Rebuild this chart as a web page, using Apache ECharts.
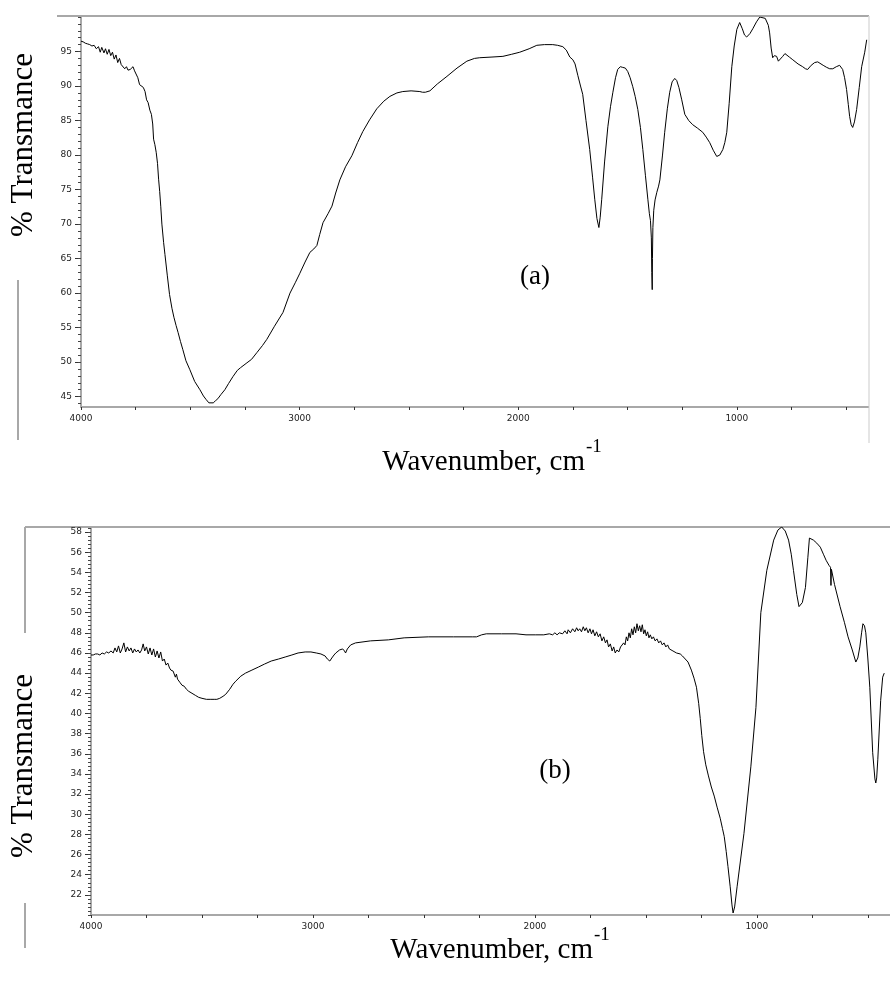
<!DOCTYPE html>
<html>
<head>
<meta charset="utf-8">
<script src="https://cdn.jsdelivr.net/npm/echarts@6/dist/echarts.min.js"></script>
<style>html,body{margin:0;padding:0;background:#fff}#c{width:890px;height:985px}</style>
</head>
<body>
<div id="c"></div>
<script>
// ---- Spectrum (a) ----
const wnA = [4000,3990,3980,3970,3960,3950,3940,3930,3920,3912,3905,3895,3888,3880,3872,3864,3856,3848,3840,3832,3824,3816,3808,3800,3792,3785,3775,3768,3762,3755,3748,3740,3732,3725,3715,3707,3700,3693,3685,3678,3672,3668,3662,3656,3650,3645,3640,3635,3630,3622,3616,3605,3595,3584,3575,3565,3556,3545,3534,3520,3502,3480,3456,3440,3428,3415,3406,3395,3385,3374,3360,3342,3325,3305,3285,3270,3241,3220,3195,3170,3150,3115,3076,3044,3020,3000,2975,2953,2935,2921,2908,2893,2870,2852,2835,2816,2790,2761,2735,2711,2680,2647,2615,2587,2555,2528,2490,2450,2438,2432,2425,2404,2370,2326,2280,2235,2200,2176,2120,2070,2030,1993,1950,1915,1880,1842,1820,1796,1780,1764,1750,1740,1727,1715,1705,1690,1673,1660,1650,1640,1631,1625,1618,1605,1590,1578,1567,1555,1545,1533,1522,1510,1499,1488,1476,1465,1453,1441,1430,1418,1407,1400,1395,1391,1389,1387,1386,1384,1380,1374,1366,1358,1352,1340,1330,1318,1307,1296,1284,1275,1265,1252,1238,1220,1202,1180,1156,1140,1124,1108,1092,1078,1064,1055,1046,1035,1023,1012,1000,987,975,965,955,940,927,910,895,886,870,863,856,850,843,836,828,818,810,804,790,780,772,760,744,720,699,686,676,660,644,630,621,605,589,575,561,545,530,522,516,507,498,490,484,477,470,462,452,440,429,415,406];
const tA = [96.5,96.4,96.2,96.1,96.0,95.8,95.9,95.4,95.7,94.9,95.6,94.8,95.4,94.6,95.3,94.4,94.9,93.9,94.5,93.4,94.0,93.1,93.3,92.5,92.8,92.3,92.4,92.6,92.8,92.2,92.0,91.2,90.2,90.0,89.8,89.2,88.0,87.6,86.5,85.9,84.5,82.3,81.5,80.4,78.8,76.5,74.7,72.5,70.0,67.3,65.6,62.5,59.8,57.8,56.5,55.3,54.3,53.0,51.8,50.2,48.9,47.2,46.0,45.1,44.6,44.1,44.0,44.1,44.4,44.7,45.3,46.0,46.9,47.9,48.8,49.2,49.9,50.4,51.4,52.4,53.3,55.2,57.2,60.0,61.5,62.8,64.5,65.9,66.4,66.9,68.5,70.2,71.5,72.6,74.5,76.4,78.3,79.9,81.8,83.4,85.1,86.7,87.8,88.5,89.0,89.2,89.3,89.2,89.1,88.9,89.1,89.3,90.3,91.4,92.6,93.6,94.0,94.1,94.2,94.3,94.6,94.9,95.4,95.9,96.0,96.0,95.9,95.7,95.2,94.2,93.8,93.2,91.5,90.0,88.8,85.0,80.8,76.8,73.6,70.8,69.5,71.0,73.6,79.0,84.1,87.0,89.1,91.2,92.4,92.8,92.7,92.6,92.1,91.2,89.9,88.5,86.6,84.0,80.8,77.0,73.6,71.5,70.5,68.0,63.0,60.5,65.0,69.5,72.0,73.5,74.6,75.5,76.4,80.0,83.3,86.7,89.1,90.6,91.1,90.8,89.8,88.0,85.9,85.0,84.4,83.9,83.3,82.6,81.8,80.7,79.8,80.0,80.8,81.8,83.3,87.5,92.8,95.8,98.2,99.2,98.3,97.4,97.1,97.6,98.3,99.3,100.0,100.1,99.8,99.6,98.8,97.7,95.5,94.1,94.4,94.3,93.6,93.4,94.3,94.7,94.6,94.2,93.8,93.2,92.8,92.5,92.4,93.0,93.4,93.5,93.4,93.0,92.7,92.5,92.5,92.8,93.0,92.9,92.4,91.2,89.5,87.3,85.6,84.4,84.0,84.8,86.6,89.8,92.8,94.9,96.7];

// ---- Spectrum (b) ----
const wnB = [4000,3990,3980,3970,3960,3950,3940,3930,3920,3910,3900,3892,3884,3876,3868,3860,3852,3844,3836,3828,3820,3812,3804,3796,3788,3780,3772,3765,3758,3750,3742,3734,3726,3718,3710,3702,3694,3686,3678,3670,3662,3654,3646,3640,3630,3620,3615,3610,3600,3590,3580,3570,3560,3545,3530,3515,3500,3480,3460,3445,3433,3420,3405,3393,3375,3360,3348,3325,3304,3275,3246,3218,3188,3155,3125,3095,3067,3035,3009,2985,2964,2945,2935,2924,2915,2905,2897,2880,2866,2858,2853,2845,2830,2808,2741,2660,2589,2480,2366,2280,2263,2240,2219,2150,2085,2040,1996,1960,1935,1920,1910,1900,1890,1875,1865,1855,1850,1840,1830,1820,1812,1805,1798,1790,1782,1775,1768,1760,1752,1745,1738,1730,1722,1714,1706,1698,1690,1682,1675,1668,1660,1652,1645,1638,1630,1622,1614,1606,1600,1594,1588,1582,1576,1570,1564,1558,1552,1546,1540,1534,1528,1522,1516,1510,1504,1498,1492,1486,1480,1473,1466,1458,1450,1442,1434,1426,1418,1410,1402,1394,1386,1378,1370,1362,1357,1345,1335,1326,1310,1295,1283,1272,1262,1255,1248,1240,1230,1218,1205,1192,1179,1165,1155,1147,1138,1130,1120,1112,1107,1100,1089,1058,1027,1004,982,955,924,905,888,872,857,845,835,820,810,804,795,781,770,763,745,730,714,700,688,675,668,666,664,650,625,605,589,570,554,545,536,528,522,515,509,500,491,478,468,464,460,455,442,433,426];
const tB = [45.8,45.8,45.9,45.9,45.8,46.0,45.9,46.1,46.0,46.2,46.0,46.5,46.1,46.7,46.0,46.4,47.0,46.1,46.6,46.2,46.5,46.0,46.4,46.1,46.3,46.0,46.3,46.9,46.2,46.6,45.9,46.5,45.8,46.4,45.6,46.2,45.5,46.1,45.2,45.4,44.8,45.0,44.5,44.3,44.2,43.6,43.9,43.4,43.1,42.8,42.7,42.4,42.2,42.0,41.8,41.6,41.5,41.4,41.4,41.4,41.4,41.5,41.7,41.9,42.4,42.9,43.2,43.7,44.0,44.3,44.6,44.9,45.2,45.4,45.6,45.8,46.0,46.1,46.1,46.0,45.9,45.7,45.4,45.2,45.5,45.8,46.0,46.3,46.4,46.2,46.0,46.4,46.8,47.0,47.2,47.3,47.5,47.6,47.6,47.6,47.6,47.8,47.9,47.9,47.9,47.8,47.8,47.8,47.9,47.8,48.0,47.8,48.0,47.9,48.2,47.9,48.3,48.0,48.4,48.1,48.5,48.2,48.4,48.1,48.6,48.2,48.5,48.0,48.4,47.9,48.3,47.7,48.1,47.6,47.9,47.2,47.6,47.0,47.3,46.6,46.9,46.2,46.6,46.0,46.3,46.1,46.6,46.5,47.0,46.8,47.6,47.2,48.0,47.5,48.4,47.8,48.6,48.0,48.9,48.2,48.7,48.1,48.8,47.9,48.3,47.7,48.1,47.5,47.8,47.4,47.6,47.2,47.4,47.0,47.2,46.8,47.0,46.6,46.8,46.4,46.5,46.2,46.3,46.0,46.1,45.9,45.7,45.6,45.1,44.3,43.5,42.6,41.0,39.5,37.8,36.2,34.9,33.8,32.7,31.8,30.7,29.6,28.6,27.8,26.3,24.8,22.8,21.0,20.2,20.8,22.8,28.1,34.7,40.6,50.0,54.2,57.2,58.2,58.5,58.1,57.2,55.8,54.2,51.8,50.6,50.5,51.0,52.5,55.5,57.4,57.2,56.9,56.5,55.8,55.2,54.7,54.5,52.7,54.3,52.8,50.6,49.0,47.6,46.3,45.1,45.5,46.6,48.0,48.9,48.7,48.0,45.5,42.6,36.1,33.5,33.1,33.6,35.4,41.3,43.6,44.0];

// tick labels
const xLabels = [1000, 2000, 3000, 4000];
const yLabelsA = [45, 50, 55, 60, 65, 70, 75, 80, 85, 90, 95];
const yLabelsB = [22, 24, 26, 28, 30, 32, 34, 36, 38, 40, 42, 44, 46, 48, 50, 52, 54, 56, 58];

const xTicks = [];
for (let v = 500; v <= 4000; v += 250) xTicks.push(v);
const yMinorA = [];
for (let v = 44; v <= 100; v += 1) yMinorA.push(v);
const yMinorB = [];
for (let v = 0; v <= 96; v++) yMinorB.push(+(20 + v * 0.4).toFixed(1));

const GRAY = '#a8a8a8';
const labelFont = {fontFamily: 'DejaVu Sans', fontSize: 9, color: '#222'};
const serif = 'Liberation Serif, Times New Roman, serif';
const plain = v => String(v);

function xAx(gi) {
  return {
    gridIndex: gi, type: 'value', min: 400, max: 4000, inverse: true,
    axisLine: {show: true, lineStyle: {color: GRAY, width: 2}},
    axisTick: {show: true, length: 3, lineStyle: {color: '#333', width: 1}, customValues: xTicks},
    axisLabel: Object.assign({margin: 7, customValues: xLabels, formatter: plain}, labelFont),
    splitLine: {show: false}
  };
}
function yAxMajor(gi, min, max, labels) {
  return {
    gridIndex: gi, type: 'value', min: min, max: max,
    axisLine: {show: true, lineStyle: {color: GRAY, width: 2}},
    axisTick: {show: true, length: 6, lineStyle: {color: '#333', width: 1}, customValues: labels},
    axisLabel: Object.assign({margin: 9, customValues: labels, formatter: plain}, labelFont),
    splitLine: {show: false}
  };
}
function yAxMinor(gi, min, max, ticks) {
  return {
    gridIndex: gi, type: 'value', min: min, max: max, position: 'left',
    axisLine: {show: false},
    axisTick: {show: true, length: 3, lineStyle: {color: '#444', width: 1}, customValues: ticks},
    axisLabel: {show: false},
    splitLine: {show: false}
  };
}

const chart = echarts.init(document.getElementById('c'), null, {renderer: 'canvas'});
const lineStyleGray = {stroke: GRAY, lineWidth: 2};
chart.setOption({
  animation: false,
  backgroundColor: '#fff',
  grid: [
    {left: 81, top: 17, width: 787, height: 390},
    {left: 91, top: 527, width: 806, height: 388}
  ],
  xAxis: [xAx(0), xAx(1)],
  yAxis: [
    yAxMajor(0, 43.5, 100, yLabelsA),
    yAxMinor(0, 43.5, 100, yMinorA),
    yAxMajor(1, 20, 58.5, yLabelsB),
    yAxMinor(1, 20, 58.5, yMinorB)
  ],
  series: [
    {type: 'line', xAxisIndex: 0, yAxisIndex: 0, showSymbol: false, symbol: 'none',
     lineStyle: {color: '#000', width: 1}, data: wnA.map((w, i) => [w, tA[i]])},
    {type: 'line', xAxisIndex: 1, yAxisIndex: 2, showSymbol: false, symbol: 'none',
     lineStyle: {color: '#000', width: 1}, data: wnB.map((w, i) => [w, tB[i]])}
  ],
  graphic: [
    // frame fragments (a)
    {type: 'line', shape: {x1: 57, y1: 16, x2: 869, y2: 16}, style: lineStyleGray, silent: true},
    {type: 'line', shape: {x1: 869, y1: 16, x2: 869, y2: 443}, style: {stroke: '#ddd', lineWidth: 1.5}, silent: true},
    {type: 'line', shape: {x1: 18, y1: 280, x2: 18, y2: 440}, style: lineStyleGray, silent: true},
    // frame fragments (b)
    {type: 'line', shape: {x1: 25, y1: 527, x2: 890, y2: 527}, style: lineStyleGray, silent: true},
    {type: 'line', shape: {x1: 25, y1: 527, x2: 25, y2: 633}, style: lineStyleGray, silent: true},
    {type: 'line', shape: {x1: 25, y1: 903, x2: 25, y2: 948}, style: lineStyleGray, silent: true},
    // axis titles (a)
    {type: 'text', x: 24, y: 145, rotation: Math.PI / 2,
     style: {text: '% Transmance', font: '31px ' + serif, fill: '#000', align: 'center', verticalAlign: 'middle'}},
    {type: 'text', x: 585, y: 462,
     style: {text: 'Wavenumber, cm', font: '29px ' + serif, fill: '#000', align: 'right', verticalAlign: 'middle'}},
    {type: 'text', x: 586, y: 447,
     style: {text: '-1', font: '19px ' + serif, fill: '#000', align: 'left', verticalAlign: 'middle'}},
    {type: 'text', x: 535, y: 277,
     style: {text: '(a)', font: '27px ' + serif, fill: '#000', align: 'center', verticalAlign: 'middle'}},
    // axis titles (b)
    {type: 'text', x: 24, y: 766, rotation: Math.PI / 2,
     style: {text: '% Transmance', font: '31px ' + serif, fill: '#000', align: 'center', verticalAlign: 'middle'}},
    {type: 'text', x: 593, y: 950,
     style: {text: 'Wavenumber, cm', font: '29px ' + serif, fill: '#000', align: 'right', verticalAlign: 'middle'}},
    {type: 'text', x: 594, y: 935,
     style: {text: '-1', font: '19px ' + serif, fill: '#000', align: 'left', verticalAlign: 'middle'}},
    {type: 'text', x: 555, y: 771,
     style: {text: '(b)', font: '27px ' + serif, fill: '#000', align: 'center', verticalAlign: 'middle'}}
  ]
});
</script>
</body>
</html>
